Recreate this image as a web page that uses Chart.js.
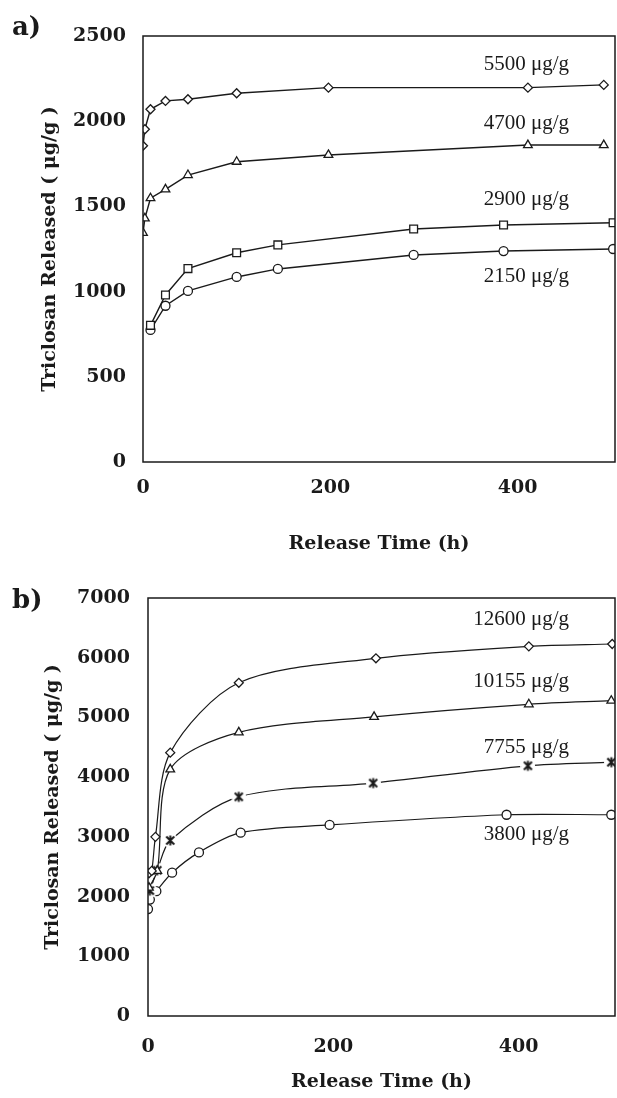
<!DOCTYPE html>
<html>
<head>
<meta charset="utf-8">
<script src="https://cdn.jsdelivr.net/npm/chart.js@4.4.1/dist/chart.umd.min.js"></script>
<style>
  html, body { margin: 0; padding: 0; background: #fff; }
  body { width: 617px; height: 1098px; position: relative; overflow: hidden; }
  canvas { position: absolute; left: 0; }
  #chartA { top: 0; }
  #chartB { top: 555px; }
</style>
</head>
<body>
<canvas id="chartA" width="617" height="555"></canvas>
<canvas id="chartB" width="617" height="538"></canvas>
<script>
'use strict';

// panel a) -- release from the four lower loadings
const timeA1 = [0, 2, 8, 24, 48, 100, 198, 411, 492];
const dose5500 = [1856, 1953, 2070, 2119, 2129, 2164, 2197, 2197, 2213];
const dose4700 = [1345, 1430, 1548, 1600, 1684, 1762, 1802, 1860, 1860];
const timeA2 = [8, 24, 48, 100, 144, 289, 385, 502];
const dose2900 = [802, 980, 1135, 1228, 1274, 1367, 1391, 1404];
const dose2150 = [775, 917, 1004, 1086, 1133, 1215, 1238, 1250];
const namesA = ['5500 μg/g', '4700 μg/g', '2900 μg/g', '2150 μg/g'];
const yTicksA = [0, 500, 1000, 1500, 2000, 2500];

// panel b) -- release from the four higher loadings
const time12600 = [1, 4, 8, 24, 98, 246, 411, 501];
const dose12600 = [2390, 2430, 3000, 4410, 5580, 5990, 6190, 6230];
const time10155 = [1, 10, 24, 98, 244, 411, 500];
const dose10155 = [2150, 2430, 4130, 4750, 5010, 5220, 5280];
const time7755 = [2, 10, 24, 98, 243, 410, 500];
const dose7755 = [2100, 2440, 2940, 3670, 3900, 4190, 4250];
const time3800 = [0, 2, 9, 26, 55, 100, 196, 387, 500];
const dose3800 = [1790, 1950, 2090, 2400, 2740, 3070, 3200, 3370, 3370];
const namesB = ['12600 μg/g', '10155 μg/g', '7755 μg/g', '3800 μg/g'];
const yTicksB = [0, 1000, 2000, 3000, 4000, 5000, 6000, 7000];

const xTicks = [0, 200, 400];
const xMax = 504;

const ink = '#1a1a1a';
const axisFont = {family: "'DejaVu Serif', serif", size: 19, weight: 'bold'};

const pts = (xs, ys) => xs.map((x, i) => ({x, y: ys[i]}));

// asterisk marker on a white disc, so the line breaks around it
function asteriskMarker() {
    const c = document.createElement('canvas');
    c.width = 15;
    c.height = 15;
    const g = c.getContext('2d');
    g.fillStyle = '#fff';
    g.beginPath();
    g.arc(7.5, 7.5, 7.5, 0, Math.PI * 2);
    g.fill();
    g.strokeStyle = ink;
    g.lineWidth = 2;
    g.beginPath();
    g.moveTo(3.5, 3.5); g.lineTo(11.5, 11.5);
    g.moveTo(11.5, 3.5); g.lineTo(3.5, 11.5);
    g.moveTo(7.5, 2.5); g.lineTo(7.5, 12.5);
    g.stroke();
    return c;
}

function series(data, name, style, radius, dy, smooth) {
    return {
        data,
        label: name,
        tagDy: dy,
        borderColor: ink,
        backgroundColor: '#fff',
        borderWidth: smooth ? 1.2 : 1.4,
        pointStyle: style,
        pointRadius: radius,
        pointBorderWidth: 1.3,
        pointBorderColor: ink,
        pointBackgroundColor: '#fff',
        tension: smooth ? 0.3 : 0,
        fill: false,
    };
}

// plot frame, panel letter and the loading tags beside each curve
const framePlugin = {
    id: 'frame',
    afterDatasetsDraw(chart, args, opts) {
        const {ctx, chartArea: a} = chart;
        ctx.save();
        ctx.strokeStyle = ink;
        ctx.lineWidth = 1.5;
        ctx.strokeRect(a.left, a.top, a.right - a.left, a.bottom - a.top);

        ctx.fillStyle = ink;
        ctx.font = "21px 'Liberation Serif', serif";
        ctx.textAlign = 'right';
        ctx.textBaseline = 'middle';
        chart.data.datasets.forEach((ds, i) => {
            const els = chart.getDatasetMeta(i).data;
            const last = els[els.length - 1];
            ctx.fillText(ds.label, a.right - opts.inset, last.y + ds.tagDy);
        });

        ctx.font = "bold 26px 'DejaVu Serif', serif";
        ctx.textAlign = 'left';
        ctx.textBaseline = 'alphabetic';
        ctx.fillText(opts.letter, 12, opts.letterY);
        ctx.restore();
    },
};

function makeChart(canvas, cfg) {
    return new Chart(canvas.getContext('2d'), {
        type: 'line',
        data: {datasets: cfg.datasets},
        plugins: [framePlugin],
        options: {
            responsive: false,
            animation: false,
            events: [],
            devicePixelRatio: 1,
            layout: {padding: cfg.padding, autoPadding: false},
            plugins: {
                legend: {display: false},
                tooltip: {enabled: false},
                frame: {inset: cfg.inset, letter: cfg.letter, letterY: cfg.letterY},
            },
            scales: {
                x: {
                    type: 'linear',
                    min: 0,
                    max: xMax,
                    afterBuildTicks: s => { s.ticks = xTicks.map(value => ({value})); },
                    afterFit: s => { s.height = cfg.xHeight; },
                    grid: {display: false, drawTicks: false},
                    border: {display: false},
                    ticks: {
                        padding: cfg.xPad,
                        color: ink,
                        font: axisFont,
                        maxRotation: 0,
                        autoSkip: false,
                        callback: v => String(v),
                    },
                    title: {
                        display: true,
                        text: 'Release Time (h)',
                        color: ink,
                        font: axisFont,
                        padding: {top: 0, bottom: 0},
                    },
                },
                y: {
                    type: 'linear',
                    min: 0,
                    max: cfg.yTicks[cfg.yTicks.length - 1],
                    afterBuildTicks: s => { s.ticks = cfg.yTicks.map(value => ({value})); },
                    afterFit: s => { s.width = cfg.yWidth; },
                    grid: {display: false, drawTicks: false},
                    border: {display: false},
                    ticks: {
                        padding: cfg.yPad,
                        color: ink,
                        font: axisFont,
                        autoSkip: false,
                        callback: v => String(v),
                    },
                    title: {
                        display: true,
                        text: 'Triclosan Released ( μg/g )',
                        color: ink,
                        font: axisFont,
                        padding: {top: cfg.yTitlePad, bottom: 0},
                    },
                },
            },
        },
    });
}

makeChart(document.getElementById('chartA'), {
    datasets: [
        series(pts(timeA1, dose5500), namesA[0], 'rectRot', 4.5, -20, false),
        series(pts(timeA1, dose4700), namesA[1], 'triangle', 5, -22, false),
        series(pts(timeA2, dose2900), namesA[2], 'rect', 5.5, -23, false),
        series(pts(timeA2, dose2150), namesA[3], 'circle', 4.5, 27, false),
    ],
    yTicks: yTicksA,
    padding: {top: 36, right: 2, left: 0, bottom: 0},
    xHeight: 93,
    yWidth: 143,
    xPad: 15,
    yPad: 17,
    yTitlePad: 38.6,
    inset: 46,
    letter: 'a)',
    letterY: 35,
});

makeChart(document.getElementById('chartB'), {
    datasets: [
        series(pts(time12600, dose12600), namesB[0], 'rectRot', 4.5, -24, true),
        series(pts(time10155, dose10155), namesB[1], 'triangle', 5, -19, true),
        series(pts(time7755, dose7755), namesB[2], asteriskMarker(), 5, -15, true),
        series(pts(time3800, dose3800), namesB[3], 'circle', 4.5, 20, true),
    ],
    yTicks: yTicksB,
    padding: {top: 43, right: 2, left: 0, bottom: 0},
    xHeight: 77,
    yWidth: 148,
    xPad: 20,
    yPad: 18,
    yTitlePad: 41.6,
    inset: 46,
    letter: 'b)',
    letterY: 53,
});
</script>
</body>
</html>
